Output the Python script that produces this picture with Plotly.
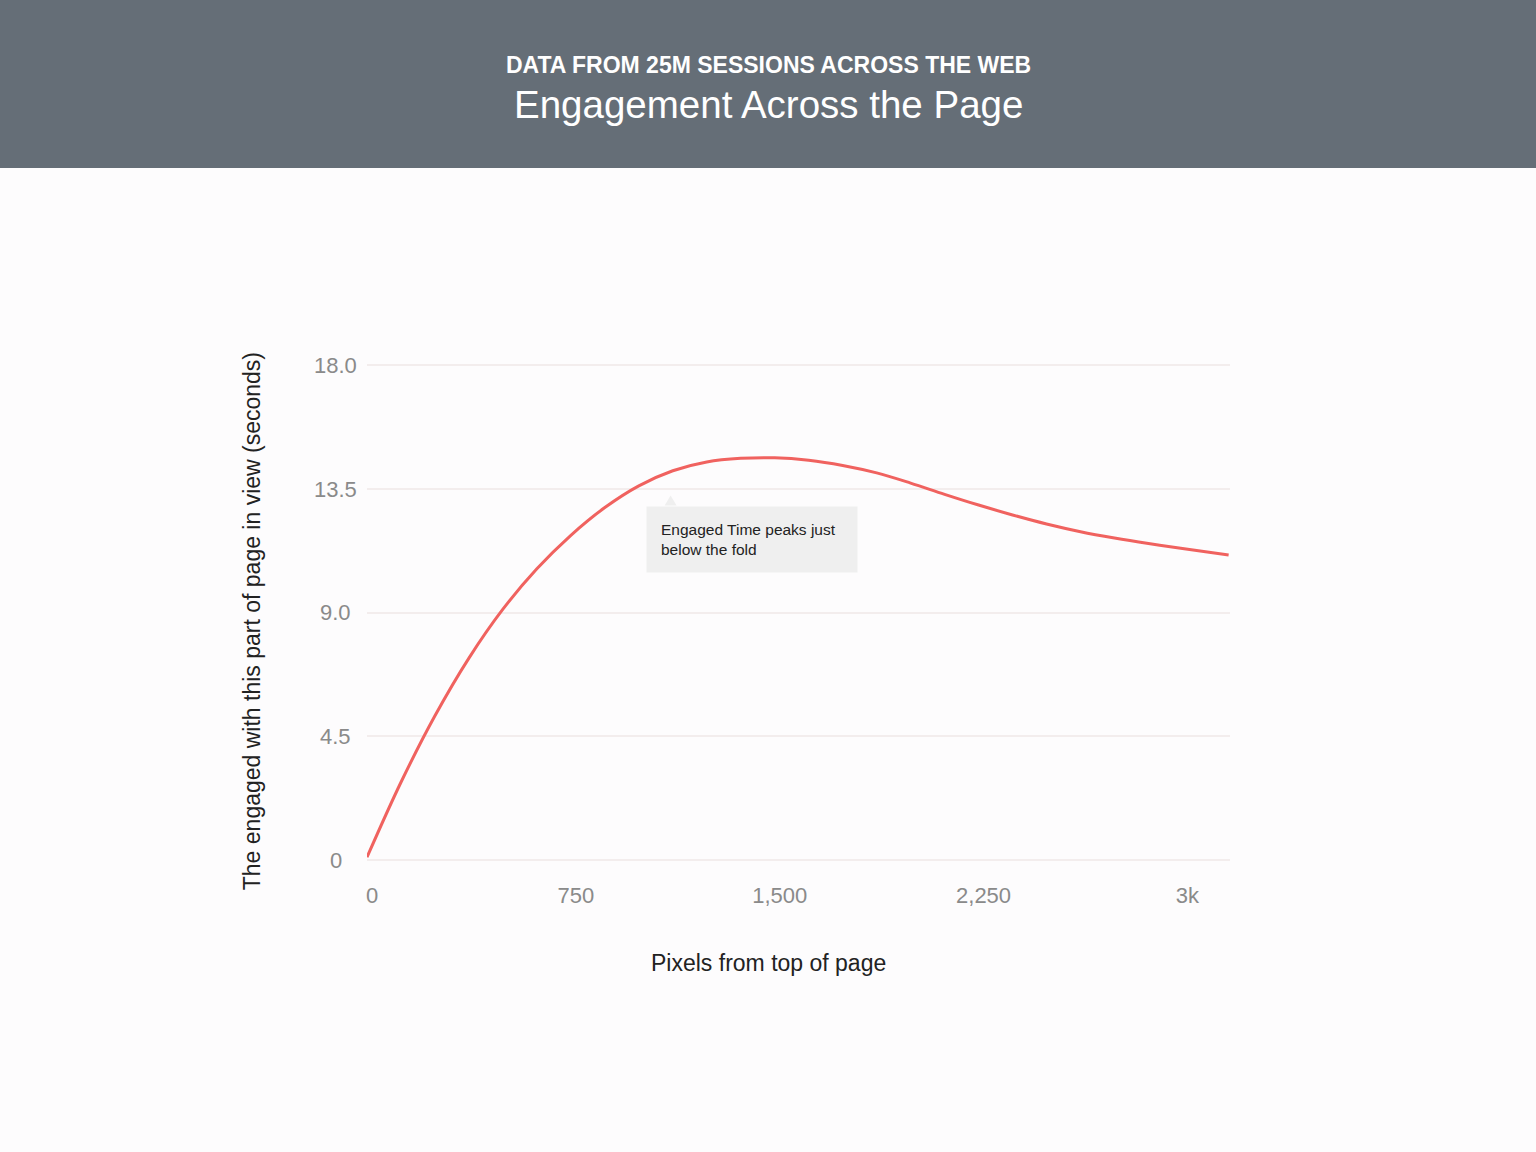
import plotly.graph_objects as go

# Engaged time by distance from the top of the page
pixels = [0, 125, 250, 375, 500, 625, 750, 875, 1000, 1125, 1250, 1375, 1500,
          1625, 1750, 1875, 2000, 2125, 2250, 2375, 2500, 2625, 2750, 2875,
          3000, 3170]
engaged_seconds = [0.1, 2.83, 5.25, 7.35, 9.13, 10.6, 11.82, 12.83, 13.62,
                   14.17, 14.49, 14.62, 14.64, 14.55, 14.36, 14.09, 13.72,
                   13.31, 12.92, 12.56, 12.23, 11.95, 11.72, 11.52, 11.34, 11.1]

x_tickvals = [0, 750, 1500, 2250, 3000]
x_ticktext = ["0", "750", "1,500", "2,250", "3k"]
y_tickvals = [0, 4.5, 9, 13.5, 18]
y_ticktext = ["0", "4.5", "9.0", "13.5", "18.0"]

note_text = "Engaged Time peaks just<br>below the fold"
note_x, note_y = 1027, 12.9

FONT = "Liberation Sans, Arial, sans-serif"

fig = go.Figure()
fig.add_trace(go.Scatter(
    x=pixels, y=engaged_seconds, mode="lines",
    line=dict(color="#f0625f", width=3, shape="spline", smoothing=1.0),
    hoverinfo="skip", showlegend=False,
))

# header band
fig.add_shape(type="rect", xref="paper", yref="paper",
              x0=-0.45, x1=1.4, y0=1.384, y1=1.76,
              fillcolor="#656e77", line_width=0, layer="below")

fig.add_annotation(text="<b>DATA FROM 25M SESSIONS ACROSS THE WEB</b>",
                   xref="paper", yref="paper", x=0.4647, y=1.59,
                   xanchor="center", yanchor="middle", showarrow=False,
                   font=dict(size=23, color="white", family=FONT))
fig.add_annotation(text="Engagement Across the Page",
                   xref="paper", yref="paper", x=0.4647, y=1.512,
                   xanchor="center", yanchor="middle", showarrow=False,
                   font=dict(size=38.5, color="white", family=FONT))

# axis titles
fig.add_annotation(text="Pixels from top of page",
                   xref="paper", yref="paper", x=0.4647, y=-0.206,
                   xanchor="center", yanchor="middle", showarrow=False,
                   font=dict(size=23, color="#222222", family=FONT))
fig.add_annotation(text="The engaged with this part of page in view (seconds)",
                   xref="paper", yref="paper", x=-0.133, y=0.478,
                   xanchor="center", yanchor="middle", textangle=-90,
                   showarrow=False,
                   font=dict(size=23, color="#222222", family=FONT))

# y tick labels, centred in their column like the original
for val, label in zip(y_tickvals, y_ticktext):
    fig.add_annotation(text=label, xref="paper", yref="y", x=-0.036, y=val,
                       xanchor="center", yanchor="middle", showarrow=False,
                       font=dict(size=22, color="#8a8a8a", family=FONT))

# callout box with a small pointer on top
fig.add_annotation(text=note_text, x=note_x, y=note_y, xref="x", yref="y",
                   xanchor="left", yanchor="top", align="left", width=182,
                   showarrow=False, bgcolor="#efefef", borderpad=14,
                   font=dict(size=15.5, color="#222222", family=FONT))
fig.add_shape(type="path", xref="x", yref="y",
              path=f"M {note_x + 68},{note_y} L {note_x + 90},{note_y + 0.37} "
                   f"L {note_x + 112},{note_y} Z",
              fillcolor="#efefef", line_width=0)

fig.update_layout(
    width=1536, height=1152,
    margin=dict(l=367, r=306, t=360, b=292),
    paper_bgcolor="#fdfcfd", plot_bgcolor="#fdfcfd",
    font=dict(family=FONT, color="#8a8a8a", size=22),
)
fig.update_xaxes(
    range=[0, 3175], tickvals=x_tickvals, ticktext=x_ticktext,
    showgrid=False, zeroline=False, showline=False,
    ticks="outside", ticklen=16, tickcolor="rgba(0,0,0,0)", ticklabelshift=5,
)
fig.update_yaxes(
    range=[0, 18.2], tickvals=y_tickvals, showticklabels=False,
    showgrid=True, gridcolor="#f3eded", gridwidth=1.5,
    zeroline=True, zerolinecolor="#f3eded", zerolinewidth=1.5,
    showline=False, ticks="",
)

fig.write_html("out.html", config={"displayModeBar": False},
               post_script="document.body.style.margin='0';")
